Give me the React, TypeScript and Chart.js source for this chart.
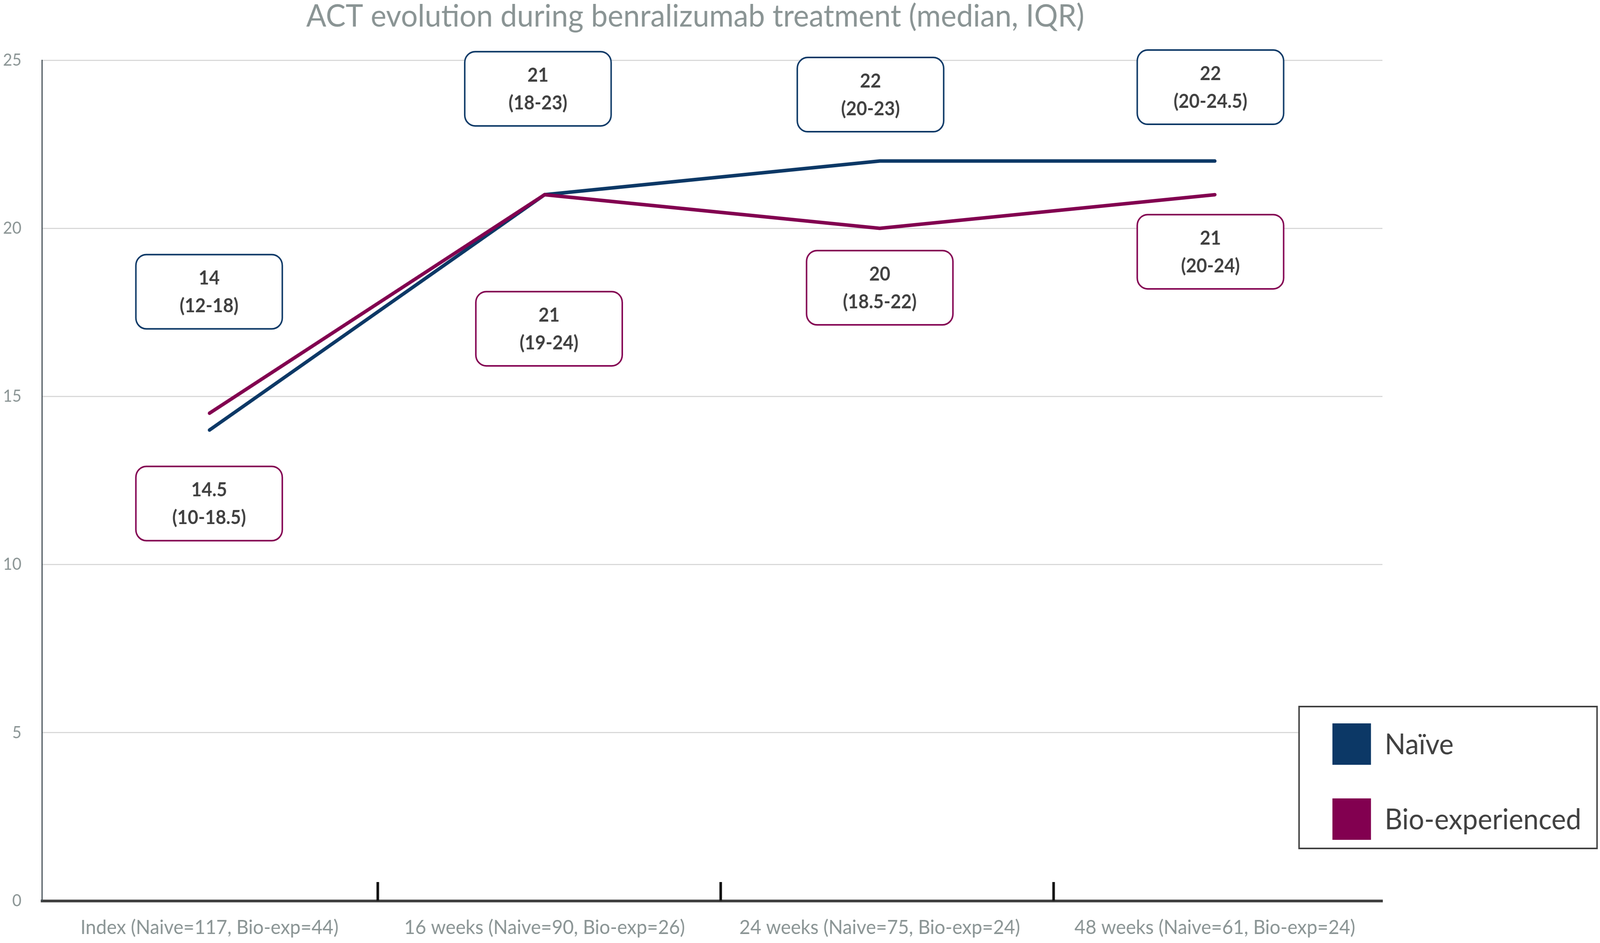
import React, { useEffect, useRef } from 'react';
import Chart from 'chart.js/auto';

// chart data
const categories = [
  'Index (Naive=117, Bio-exp=44)',
  '16 weeks (Naive=90, Bio-exp=26)',
  '24 weeks (Naive=75, Bio-exp=24)',
  '48 weeks (Naive=61, Bio-exp=24)',
];
const seriesNames = ['Naïve', 'Bio-experienced'];
const naiveMedian = [14, 21, 22, 22];
const naiveIQR = ['12-18', '18-23', '20-23', '20-24.5'];
const bioMedian = [14.5, 21, 20, 21];
const bioIQR = ['10-18.5', '19-24', '18.5-22', '20-24'];
const yTicks = [0, 5, 10, 15, 20, 25];
const chartTitle = 'ACT evolution during benralizumab treatment (median, IQR)';

// where each label box sits relative to its point (pixels)
const naiveLabelShift = [[-1, -354], [-18, -271], [-25, -170], [-12, -189]];
const bioLabelShift = [[-1, 231], [12, 343], [0, 152], [-12, 146]];
// the separator ticks sit a little right of the category boundaries
const tickShift = [2, 23, 17];

const NAVY = '#0c3866';
const MAROON = '#820050';
const GREY_TEXT = '#8a9494';
const DARK_TEXT = '#404040';
const FONT = 'Lato, "Open Sans", sans-serif';

const decorPlugin = {
  id: 'decor',
  afterDatasetsDraw(chart: any) {
    const ctx = chart.ctx;
    const xs = chart.scales.x;
    const area = chart.chartArea;
    ctx.save();

    // short inward ticks between categories
    ctx.strokeStyle = '#111111';
    ctx.lineWidth = 7;
    for (let i = 1; i < categories.length; i++) {
      const px = (xs.getPixelForValue(i - 1) + xs.getPixelForValue(i)) / 2 + tickShift[i - 1];
      ctx.beginPath();
      ctx.moveTo(px, area.bottom);
      ctx.lineTo(px, area.bottom - 48);
      ctx.stroke();
    }

    // boxed median / IQR labels
    const groups = [
      { iqr: naiveIQR, shift: naiveLabelShift },
      { iqr: bioIQR, shift: bioLabelShift },
    ];
    groups.forEach((g, d) => {
      const ds = chart.data.datasets[d];
      const meta = chart.getDatasetMeta(d);
      meta.data.forEach((pt: any, j: number) => {
        const cx = pt.x + g.shift[j][0];
        const cy = pt.y + g.shift[j][1];
        const w = 395;
        const h = 190;
        ctx.beginPath();
        ctx.roundRect(cx - w / 2, cy - h / 2, w, h, 28);
        ctx.fillStyle = '#ffffff';
        ctx.fill();
        ctx.lineWidth = 4;
        ctx.strokeStyle = ds.borderColor;
        ctx.stroke();
        ctx.fillStyle = DARK_TEXT;
        ctx.font = `bold 49px ${FONT}`;
        ctx.textAlign = 'center';
        ctx.textBaseline = 'middle';
        ctx.fillText(String(ds.data[j]), cx, cy - 34);
        ctx.fillText(`(${g.iqr[j]})`, cx, cy + 37);
      });
    });
    ctx.restore();
  },
  afterDraw(chart: any) {
    const ctx = chart.ctx;
    ctx.save();

    // title
    ctx.fillStyle = GREY_TEXT;
    ctx.font = `80px ${FONT}`;
    ctx.textAlign = 'center';
    ctx.textBaseline = 'alphabetic';
    ctx.fillText(chartTitle, 1876, 68);

    // legend box
    const bx = 3505;
    const by = 1808;
    ctx.fillStyle = '#ffffff';
    ctx.fillRect(bx, by, 804, 363);
    ctx.strokeStyle = '#404040';
    ctx.lineWidth = 4;
    ctx.strokeRect(bx, by, 804, 363);
    chart.data.datasets.forEach((ds: any, i: number) => {
      const sy = by + 43 + i * 192;
      ctx.fillStyle = ds.borderColor;
      ctx.fillRect(bx + 90, sy, 104, 106);
      ctx.fillStyle = DARK_TEXT;
      ctx.font = `74px ${FONT}`;
      ctx.textAlign = 'left';
      ctx.textBaseline = 'middle';
      ctx.fillText(ds.label, bx + 231, sy + 55);
    });
    ctx.restore();
  },
};

const App: React.FC = () => {
  const chartRef = useRef<HTMLCanvasElement | null>(null);
  const chartInstance = useRef<Chart | null>(null);

  useEffect(() => {
    const canvas = chartRef.current;
    if (!canvas) return;
    const ctx = canvas.getContext('2d');
    if (!ctx) return;

    if (chartInstance.current) {
      chartInstance.current.destroy();
    }

    chartInstance.current = new Chart(ctx, {
      type: 'line',
      data: {
        labels: categories,
        datasets: [
          {
            label: seriesNames[0],
            data: naiveMedian,
            borderColor: NAVY,
            backgroundColor: NAVY,
            borderWidth: 9,
            borderCapStyle: 'round',
            pointRadius: 0,
            tension: 0,
            order: 1,
          },
          {
            label: seriesNames[1],
            data: bioMedian,
            borderColor: MAROON,
            backgroundColor: MAROON,
            borderWidth: 9,
            borderCapStyle: 'round',
            pointRadius: 0,
            tension: 0,
            order: 0,
          },
        ],
      },
      options: {
        animation: false,
        responsive: false,
        devicePixelRatio: 1,
        layout: { padding: { top: 154, right: 587, left: 0, bottom: 0 } },
        plugins: {
          legend: { display: false },
          title: { display: false },
          tooltip: { enabled: false },
        },
        scales: {
          x: {
            offset: true,
            grid: { drawOnChartArea: false, drawTicks: false },
            border: { color: '#404040', width: 7 },
            ticks: {
              color: GREY_TEXT,
              font: { family: FONT, size: 51 },
              padding: 38,
              maxRotation: 0,
              autoSkip: false,
            },
            afterFit: (s: any) => {
              s.height = 108;
            },
          },
          y: {
            min: yTicks[0],
            max: yTicks[yTicks.length - 1],
            afterBuildTicks: (s: any) => {
              s.ticks = yTicks.map((v) => ({ value: v }));
            },
            grid: { color: '#d9d9d9', lineWidth: 3, drawTicks: false },
            border: { color: '#3e4a50', width: 3 },
            ticks: {
              color: GREY_TEXT,
              font: { family: FONT, size: 43 },
              padding: 55,
            },
            afterFit: (s: any) => {
              s.width = 113;
            },
          },
        },
      },
      plugins: [decorPlugin],
    } as any);

    return () => {
      if (chartInstance.current) {
        chartInstance.current.destroy();
        chartInstance.current = null;
      }
    };
  }, []);

  // the bitmap keeps the 4317x2413 layout and is stretched to fill the viewport
  return (
    <div style={{ position: 'fixed', left: 0, top: 0, width: '100vw', height: '100vh', background: '#ffffff' }}>
      <canvas ref={chartRef} width={4317} height={2413} style={{ width: '100%', height: '100%' }} />
    </div>
  );
};

export default App;
